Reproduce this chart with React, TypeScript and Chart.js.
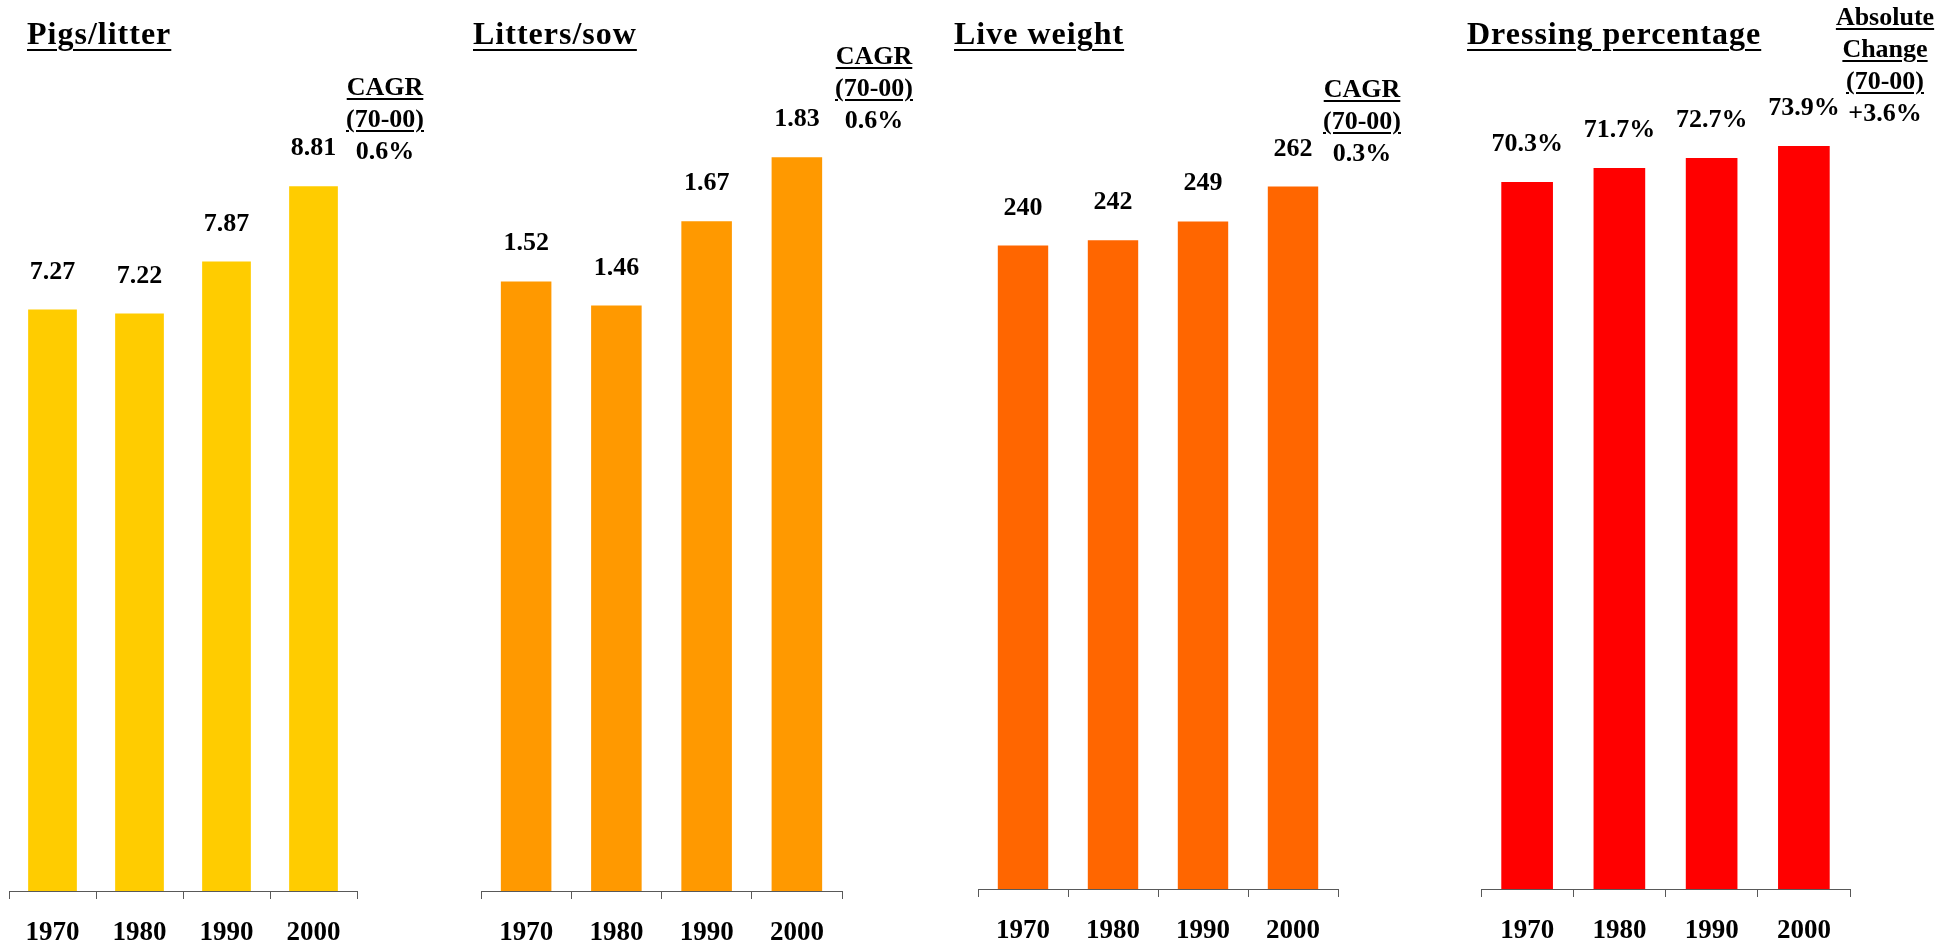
import React, { useEffect, useRef } from 'react';
import { Chart, registerables } from 'chart.js';

Chart.register(...registerables);

// ---- data ----
const years = ['1970', '1980', '1990', '2000'];
const pigsPerLitter = [7.27, 7.22, 7.87, 8.81];
const littersPerSow = [1.52, 1.46, 1.67, 1.83];
const liveWeight = [240, 242, 249, 262];
const dressingPct = [70.3, 71.7, 72.7, 73.9];

const panelTitles = ['Pigs/litter', 'Litters/sow', 'Live weight', 'Dressing percentage'];
const changeHeaders = [
  ['CAGR', '(70-00)'],
  ['CAGR', '(70-00)'],
  ['CAGR', '(70-00)'],
  ['Absolute', 'Change', '(70-00)'],
];
const changeValues = ['0.6%', '0.6%', '0.3%', '+3.6%'];

const FONT = "'Liberation Serif', 'Times New Roman', serif";

type PanelProps = {
  values: number[];
  color: string;
  max: number;
  fmt: (v: number) => string;
  left: number;
  width: number;
  axisHeight: number;
};

function BarPanel({ values, color, max, fmt, left, width, axisHeight }: PanelProps) {
  const ref = useRef<HTMLCanvasElement>(null);
  useEffect(() => {
    if (!ref.current) return;
    const labelPlugin = {
      id: 'valueLabels',
      afterDatasetsDraw(chart: any) {
        const ctx = chart.ctx;
        const meta = chart.getDatasetMeta(0);
        ctx.save();
        ctx.font = `bold 26px ${FONT}`;
        ctx.fillStyle = '#000';
        ctx.textAlign = 'center';
        ctx.textBaseline = 'alphabetic';
        meta.data.forEach((el: any, i: number) => {
          ctx.fillText(fmt(values[i]), el.x, el.y - 31);
        });
        ctx.restore();
      },
    };
    const chart = new Chart(ref.current, {
      type: 'bar',
      data: {
        labels: years,
        datasets: [
          {
            data: values,
            backgroundColor: color,
            barPercentage: 0.56,
            categoryPercentage: 1,
          },
        ],
      },
      options: {
        animation: false,
        responsive: false,
        devicePixelRatio: 1,
        layout: { padding: { left: 10, right: 10, top: 0, bottom: 0 } },
        plugins: { legend: { display: false }, tooltip: { enabled: false }, title: { display: false } },
        scales: {
          x: {
            grid: {
              display: true,
              drawOnChartArea: false,
              drawTicks: true,
              tickLength: 8,
              color: '#595959',
              lineWidth: 1,
              offset: true,
            },
            border: { display: true, color: '#595959', width: 1 },
            ticks: {
              color: '#000',
              font: { family: FONT, size: 27, weight: 'bold' },
              padding: 18,
              maxRotation: 0,
            },
            afterFit: (s: any) => {
              s.height = axisHeight;
            },
          },
          y: { display: false, min: 0, max },
        },
      } as any,
      plugins: [labelPlugin],
    });
    return () => chart.destroy();
  }, []);
  return (
    <canvas
      ref={ref}
      width={width}
      height={949}
      style={{ position: 'absolute', left, top: 0, width, height: 949 }}
    />
  );
}

function Title({ text, left }: { text: string; left: number }) {
  return (
    <div
      style={{
        position: 'absolute',
        left,
        top: 17,
        fontFamily: FONT,
        fontWeight: 'bold',
        fontSize: 32,
        lineHeight: '32px',
        letterSpacing: 1,
        whiteSpace: 'nowrap',
        textDecoration: 'underline',
        textUnderlineOffset: 5,
        textDecorationThickness: 2,
        color: '#000',
      }}
    >
      {text}
    </div>
  );
}

function ChangeNote({ header, value, center, top }: { header: string[]; value: string; center: number; top: number }) {
  return (
    <div
      style={{
        position: 'absolute',
        left: center - 100,
        width: 200,
        top,
        textAlign: 'center',
        fontFamily: FONT,
        fontWeight: 'bold',
        fontSize: 26,
        lineHeight: '32px',
        color: '#000',
        whiteSpace: 'nowrap',
      }}
    >
      {header.map((h, i) => (
        <div key={i}>
          <span style={{ textDecoration: 'underline', textUnderlineOffset: 3, textDecorationThickness: 2 }}>{h}</span>
        </div>
      ))}
      <div>{value}</div>
    </div>
  );
}

export default function App() {
  return (
    <div
      style={{
        position: 'fixed',
        left: 0,
        top: 0,
        width: 1947,
        height: 949,
        background: '#fff',
        overflow: 'hidden',
      }}
    >
      <BarPanel values={pigsPerLitter} color="#FFCC00" max={11.14} fmt={(v) => v.toFixed(2)} left={-1} width={368} axisHeight={58} />
      <BarPanel values={littersPerSow} color="#FF9900" max={2.222} fmt={(v) => v.toFixed(2)} left={471} width={381} axisHeight={58} />
      <BarPanel values={liveWeight} color="#FF6600" max={331.6} fmt={(v) => v.toFixed(0)} left={968} width={380} axisHeight={60} />
      <BarPanel values={dressingPct} color="#FF0000" max={88.41} fmt={(v) => v.toFixed(1) + '%'} left={1471} width={389} axisHeight={60} />

      <Title text={panelTitles[0]} left={27} />
      <Title text={panelTitles[1]} left={473} />
      <Title text={panelTitles[2]} left={954} />
      <Title text={panelTitles[3]} left={1467} />

      <ChangeNote header={changeHeaders[0]} value={changeValues[0]} center={385} top={71} />
      <ChangeNote header={changeHeaders[1]} value={changeValues[1]} center={874} top={40} />
      <ChangeNote header={changeHeaders[2]} value={changeValues[2]} center={1362} top={73} />
      <ChangeNote header={changeHeaders[3]} value={changeValues[3]} center={1885} top={1} />
    </div>
  );
}
